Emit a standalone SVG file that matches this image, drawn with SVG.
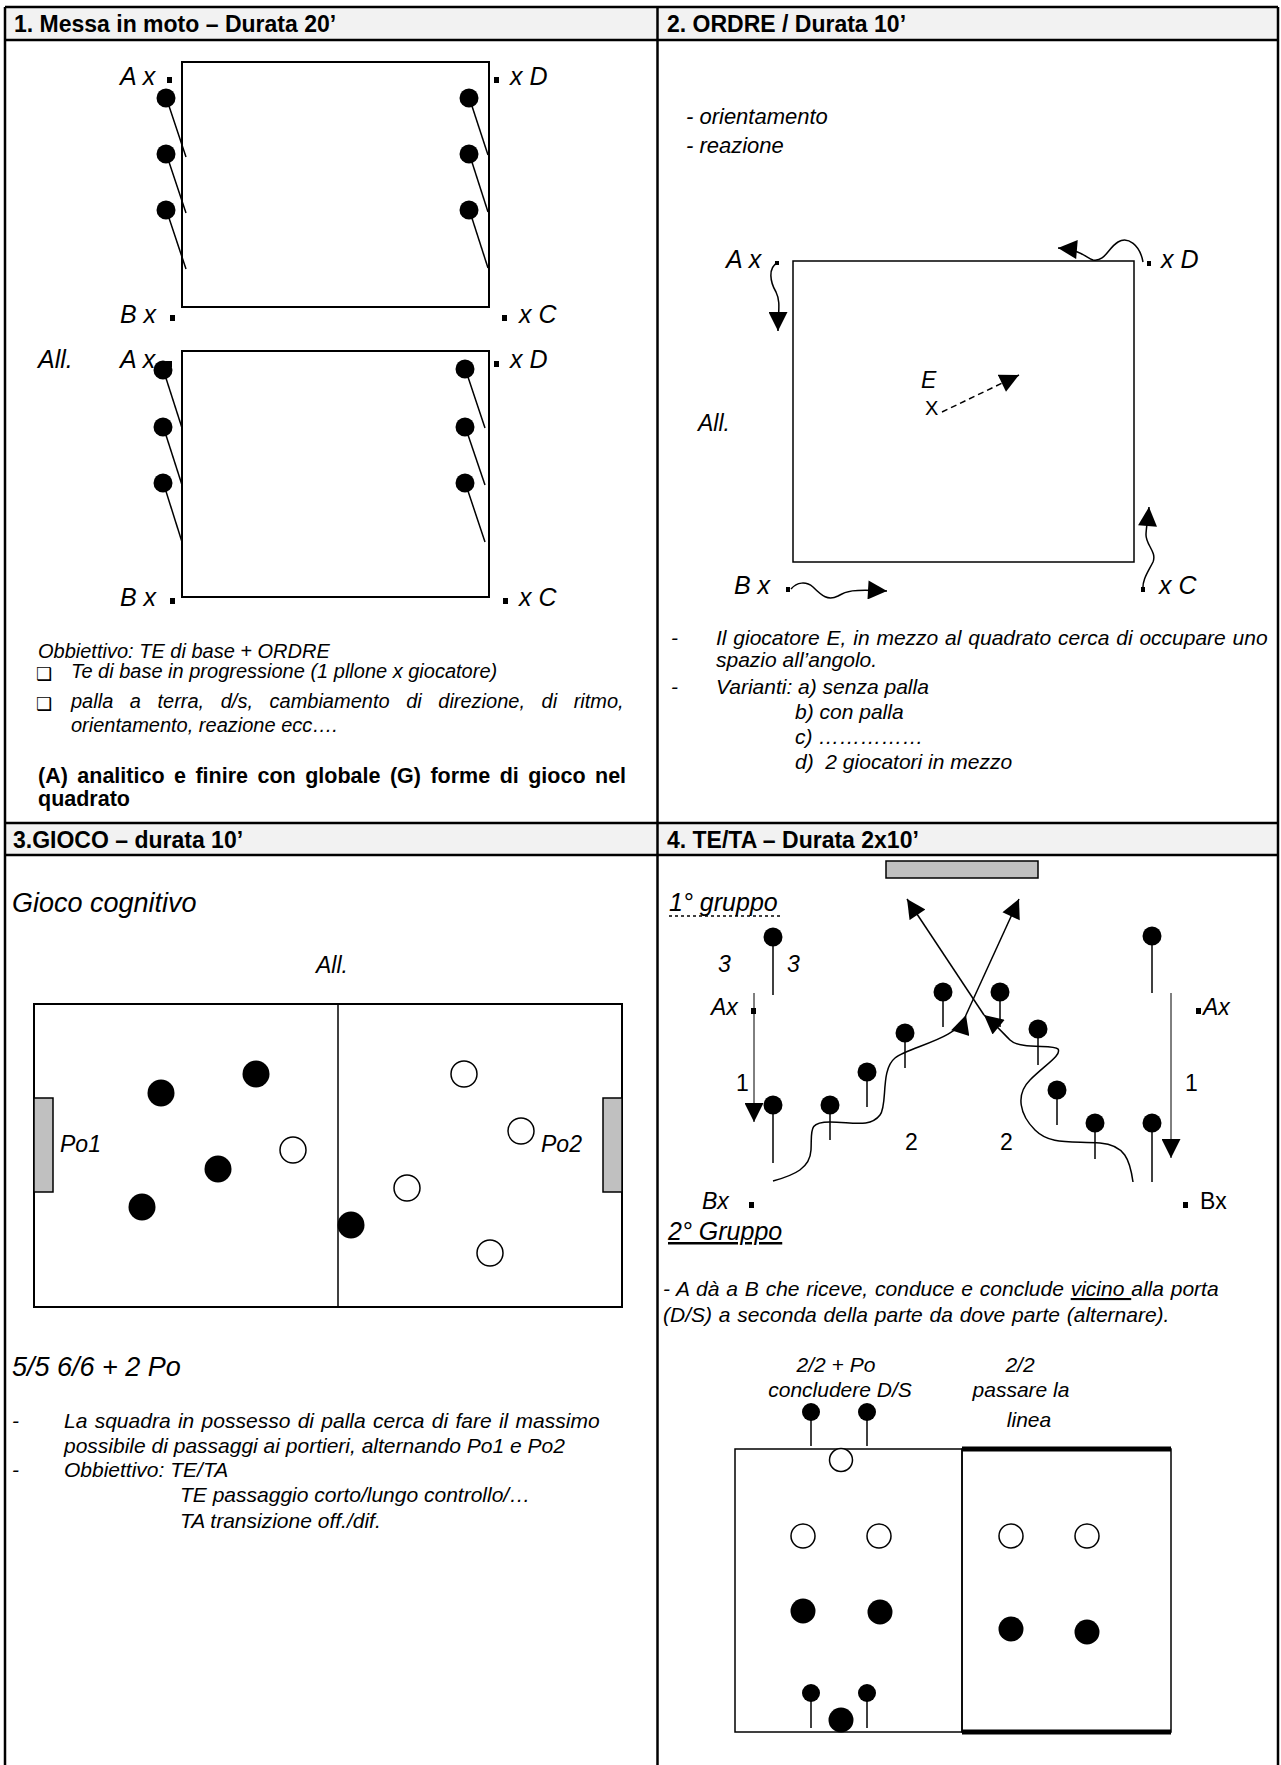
<svg xmlns="http://www.w3.org/2000/svg" width="1281" height="1765" viewBox="0 0 1281 1765">
<style>
.t{font-family:"Liberation Sans",Arial,sans-serif;fill:#000}
.i{font-style:italic}
.b{font-weight:bold}
.h{font-size:23px;font-weight:bold}
.l{font-size:23px;font-style:italic}
.k{font-size:25px;font-style:italic}
.g{font-size:27px;font-style:italic}
.s{font-size:20px;font-style:italic}
.r{font-size:21px;font-style:italic}
.q{font-size:22px;font-style:italic}
.m{font-size:21px;font-style:italic}
.ln{stroke:#000;fill:none}
.ball{fill:#000}
.open{fill:#fff;stroke:#000;stroke-width:1.5}
.dot{fill:#000}
.stick{stroke:#000;stroke-width:1.5}
.box{font-family:"DejaVu Sans",sans-serif;font-size:18px}
</style>
<defs>
<marker id="ah" viewBox="0 0 20 20" refX="20" refY="10" markerWidth="20" markerHeight="19" markerUnits="userSpaceOnUse" orient="auto">
<path d="M0,0 L20,10 L0,20 Z" fill="#000"/>
</marker>
</defs>
<rect width="1281" height="1765" fill="#fff"/>

<g id="table">
<rect x="5" y="7" width="1273" height="33" fill="#f2f2f2"/>
<rect x="5" y="823" width="1273" height="32" fill="#f2f2f2"/>
<line class="ln" stroke-width="2.5" x1="5" y1="7" x2="1278" y2="7"/>
<line class="ln" stroke-width="2.5" x1="5" y1="40" x2="1278" y2="40"/>
<line class="ln" stroke-width="2.5" x1="5" y1="823" x2="1278" y2="823"/>
<line class="ln" stroke-width="2.5" x1="5" y1="855" x2="1278" y2="855"/>
<line class="ln" stroke-width="2.5" x1="5" y1="7" x2="5" y2="1765"/>
<line class="ln" stroke-width="2.5" x1="657.5" y1="7" x2="657.5" y2="1765"/>
<line class="ln" stroke-width="2.5" x1="1278" y1="7" x2="1278" y2="1765"/>
<text class="t h" x="14" y="32">1. Messa in moto – Durata 20’</text>
<text class="t h" x="667" y="32">2. ORDRE / Durata 10’</text>
<text class="t h" x="13" y="848">3.GIOCO – durata 10’</text>
<text class="t h" x="667" y="848">4. TE/TA – Durata 2x10’</text>
</g>

<g id="section1">
<g id="square1">
<rect class="ln" stroke-width="2" x="182" y="62" width="307" height="245"/>
<text class="t k" x="120" y="85">A x</text><rect class="dot" x="167" y="77" width="5" height="6"/>
<rect class="dot" x="494" y="77" width="5" height="6"/><text class="t k" x="510" y="85">x D</text>
<text class="t k" x="120" y="323">B x</text><rect class="dot" x="170" y="315" width="5" height="6"/>
<rect class="dot" x="502" y="315" width="5" height="6"/><text class="t k" x="519" y="323">x C</text>
<g id="pins1">
<circle class="ball" cx="166" cy="98" r="9.5"/><line class="stick" x1="167" y1="100" x2="186" y2="157"/>
<circle class="ball" cx="166" cy="154" r="9.5"/><line class="stick" x1="167" y1="156" x2="186" y2="213"/>
<circle class="ball" cx="166" cy="210" r="9.5"/><line class="stick" x1="167" y1="212" x2="186" y2="269"/>
<circle class="ball" cx="469" cy="98" r="9.5"/><line class="stick" x1="470" y1="100" x2="488" y2="155"/>
<circle class="ball" cx="469" cy="154" r="9.5"/><line class="stick" x1="470" y1="156" x2="488" y2="212"/>
<circle class="ball" cx="469" cy="210" r="9.5"/><line class="stick" x1="470" y1="212" x2="488" y2="268"/>
</g>
</g>
<g id="square2">
<rect class="ln" stroke-width="2" x="182" y="351" width="307" height="246"/>
<text class="t k" x="38" y="368">All.</text>
<text class="t k" x="120" y="368">A x</text><rect class="dot" x="166" y="361" width="6" height="6"/>
<rect class="dot" x="494" y="361" width="5" height="6"/><text class="t k" x="510" y="368">x D</text>
<text class="t k" x="120" y="606">B x</text><rect class="dot" x="170" y="598" width="5" height="6"/>
<rect class="dot" x="503" y="598" width="5" height="6"/><text class="t k" x="519" y="606">x C</text>
<g id="pins2">
<circle class="ball" cx="163" cy="370" r="9.5"/><line class="stick" x1="164" y1="372" x2="182" y2="428"/>
<circle class="ball" cx="163" cy="427" r="9.5"/><line class="stick" x1="164" y1="429" x2="182" y2="485"/>
<circle class="ball" cx="163" cy="483" r="9.5"/><line class="stick" x1="164" y1="485" x2="182" y2="542"/>
<circle class="ball" cx="465" cy="369" r="9.5"/><line class="stick" x1="466" y1="371" x2="485" y2="428"/>
<circle class="ball" cx="465" cy="427" r="9.5"/><line class="stick" x1="466" y1="429" x2="485" y2="485"/>
<circle class="ball" cx="465" cy="483" r="9.5"/><line class="stick" x1="466" y1="485" x2="485" y2="542"/>
</g>
</g>
<g id="notes1">
<text class="t s" x="38" y="658">Obbiettivo: TE di base + ORDRE</text>
<text class="box" x="36" y="680">❑</text>
<text class="t s" x="71" y="678">Te di base in progressione (1 pllone x giocatore)</text>
<text class="box" x="36" y="710">❑</text>
<text class="t s" x="71" y="708" word-spacing="11">palla a terra, d/s, cambiamento di direzione, di ritmo,</text>
<text class="t s" x="71" y="732">orientamento, reazione ecc….</text>
<text class="t b" style="font-size:21.5px" x="38" y="783" word-spacing="3.5">(A) analitico e finire con globale (G) forme di gioco nel</text>
<text class="t b" style="font-size:21.5px" x="38" y="806">quadrato</text>
</g>
</g>

<g id="section2">
<text class="t q" x="686" y="124">- orientamento</text>
<text class="t q" x="686" y="153">- reazione</text>
<g id="square3">
<rect class="ln" stroke-width="1.5" x="793" y="261" width="341" height="301"/>
<text class="t k" x="726" y="268">A x</text><rect class="dot" x="775" y="261" width="4" height="4"/>
<rect class="dot" x="1147" y="261" width="4" height="5"/><text class="t k" x="1161" y="268">x D</text>
<text class="t k" x="734" y="594">B x</text><rect class="dot" x="786" y="587" width="4" height="5"/>
<rect class="dot" x="1141" y="587" width="4" height="5"/><text class="t k" x="1159" y="594">x C</text>
<text class="t l" x="698" y="431">All.</text>
<text class="t l" x="921" y="388">E</text>
<text class="t" style="font-size:20px" x="925" y="415">X</text>
</g>
<g id="moves2">
<path class="ln" stroke-width="1.5" d="M777 263 C768 268,770 282,776 292 C781 302,778 312,778 331" marker-end="url(#ah)"/>
<path class="ln" stroke-width="1.5" d="M1143 262 C1140 245,1128 236,1118 242 C1108 248,1105 262,1093 260 C1086 258,1082 250,1058 248" marker-end="url(#ah)"/>
<path class="ln" stroke-width="1.5" d="M791 589 C797 582,806 581,813 587 C822 596,828 601,838 596 C846 591,852 589,887 591" marker-end="url(#ah)"/>
<path class="ln" stroke-width="1.5" d="M1143 590 C1142 580,1148 572,1153 562 C1157 552,1146 545,1146 535 C1146 528,1148 520,1149 507" marker-end="url(#ah)"/>
<line class="ln" stroke-width="1.5" stroke-dasharray="6,4" x1="942" y1="412" x2="1019" y2="375" marker-end="url(#ah)"/>
</g>
<g id="notes2">
<text class="t r" x="671" y="645">-</text>
<text class="t r" x="716" y="645" word-spacing="1">Il giocatore E, in mezzo al quadrato cerca di occupare uno</text>
<text class="t r" x="716" y="667">spazio all’angolo.</text>
<text class="t r" x="671" y="694">-</text>
<text class="t r" x="716" y="694">Varianti: a) senza palla</text>
<text class="t r" x="795" y="719">b) con palla</text>
<text class="t r" x="795" y="744">c) ……………</text>
<text class="t r" x="795" y="769" xml:space="preserve">d)  2 giocatori in mezzo</text>
</g>
</g>

<g id="section3">
<text class="t g" x="12" y="912">Gioco cognitivo</text>
<text class="t l" x="316" y="973">All.</text>
<g id="field3">
<rect class="ln" stroke-width="2" x="34" y="1004" width="588" height="303"/>
<line class="ln" stroke-width="1.5" x1="338" y1="1004" x2="338" y2="1307"/>
<rect x="34" y="1098" width="19" height="94" fill="#c0c0c0" stroke="#000" stroke-width="1.5"/>
<rect x="603" y="1098" width="19" height="94" fill="#c0c0c0" stroke="#000" stroke-width="1.5"/>
<text class="t l" x="60" y="1152">Po1</text>
<text class="t l" x="541" y="1152">Po2</text>
<circle class="ball" cx="161" cy="1093" r="13.5"/>
<circle class="ball" cx="256" cy="1074" r="13.5"/>
<circle class="ball" cx="218" cy="1169" r="13.5"/>
<circle class="ball" cx="142" cy="1207" r="13.5"/>
<circle class="ball" cx="351" cy="1225" r="13.5"/>
<circle class="open" cx="464" cy="1074" r="13"/>
<circle class="open" cx="521" cy="1131" r="13"/>
<circle class="open" cx="293" cy="1150" r="13"/>
<circle class="open" cx="407" cy="1188" r="13"/>
<circle class="open" cx="490" cy="1253" r="13"/>
</g>
<text class="t g" x="12" y="1376">5/5 6/6 + 2 Po</text>
<g id="notes3">
<text class="t r" x="12" y="1428">-</text>
<text class="t r" x="64" y="1428" word-spacing="1.5">La squadra in possesso di palla cerca di fare il massimo</text>
<text class="t r" x="64" y="1453">possibile di passaggi ai portieri, alternando Po1 e Po2</text>
<text class="t r" x="12" y="1477">-</text>
<text class="t r" x="64" y="1477">Obbiettivo: TE/TA</text>
<text class="t r" x="180" y="1502">TE passaggio corto/lungo controllo/…</text>
<text class="t r" x="180" y="1528">TA transizione off./dif.</text>
</g>
</g>

<g id="section4">
<rect x="886" y="861" width="152" height="17" fill="#c0c0c0" stroke="#000" stroke-width="1.5"/>
<text class="t k" x="669" y="911">1° gruppo</text>
<line class="ln" stroke-width="1.5" stroke-dasharray="3,3" x1="669" y1="916" x2="781" y2="916"/>
<text class="t l" x="718" y="972">3</text>
<text class="t l" x="787" y="972">3</text>
<text class="t l" x="711" y="1015">Ax</text><rect class="dot" x="751" y="1008" width="5" height="6"/>
<rect class="dot" x="1196" y="1008" width="5" height="6"/><text class="t l" x="1203" y="1015">Ax</text>
<text class="t" style="font-size:23px" x="736" y="1091">1</text>
<text class="t" style="font-size:23px" x="1185" y="1091">1</text>
<text class="t" style="font-size:23px" x="905" y="1150">2</text>
<text class="t" style="font-size:23px" x="1000" y="1150">2</text>
<text class="t l" x="702" y="1209">Bx</text><rect class="dot" x="749" y="1202" width="5" height="6"/>
<rect class="dot" x="1183" y="1202" width="5" height="6"/><text class="t" style="font-size:23px" x="1200" y="1209">Bx</text>
<text class="t k" x="668" y="1240" text-decoration="underline">2° Gruppo</text>
<g id="pins4">
<circle class="ball" cx="773" cy="937" r="9.5"/><line class="stick" x1="773" y1="937" x2="773" y2="995"/>
<circle class="ball" cx="1152" cy="936" r="9.5"/><line class="stick" x1="1152" y1="936" x2="1152" y2="993"/>
<circle class="ball" cx="773" cy="1105" r="9.5"/><line class="stick" x1="773" y1="1105" x2="773" y2="1163"/>
<circle class="ball" cx="830" cy="1105" r="9.5"/><line class="stick" x1="830" y1="1105" x2="830" y2="1140"/>
<circle class="ball" cx="867" cy="1072" r="9.5"/><line class="stick" x1="867" y1="1072" x2="867" y2="1107"/>
<circle class="ball" cx="905" cy="1033" r="9.5"/><line class="stick" x1="905" y1="1033" x2="905" y2="1068"/>
<circle class="ball" cx="943" cy="992" r="9.5"/><line class="stick" x1="943" y1="992" x2="943" y2="1027"/>
<circle class="ball" cx="1000" cy="992" r="9.5"/><line class="stick" x1="1000" y1="992" x2="1000" y2="1027"/>
<circle class="ball" cx="1038" cy="1029" r="9.5"/><line class="stick" x1="1038" y1="1029" x2="1038" y2="1065"/>
<circle class="ball" cx="1057" cy="1090" r="9.5"/><line class="stick" x1="1057" y1="1090" x2="1057" y2="1125"/>
<circle class="ball" cx="1095" cy="1123" r="9.5"/><line class="stick" x1="1095" y1="1123" x2="1095" y2="1159"/>
<circle class="ball" cx="1152" cy="1123" r="9.5"/><line class="stick" x1="1152" y1="1123" x2="1152" y2="1182"/>
</g>
<g id="moves4">
<line class="ln" stroke-width="1" x1="754" y1="993" x2="754" y2="1122" marker-end="url(#ah)"/>
<line class="ln" stroke-width="1" x1="1171" y1="993" x2="1171" y2="1158" marker-end="url(#ah)"/>
<path class="ln" stroke-width="1.5" d="M773 1181 C795 1175,810 1168,811 1150 C812 1130,808 1122,830 1122 C852 1122,870 1128,880 1115 C888 1105,880 1070,895 1058 C910 1046,958 1040,966 1015" marker-end="url(#ah)"/>
<path class="ln" stroke-width="1.5" d="M1133 1182 C1130 1160,1125 1145,1100 1143 C1070 1141,1050 1145,1035 1130 C1020 1115,1015 1095,1030 1080 C1045 1065,1062 1055,1058 1049 C1054 1044,1020 1050,1010 1040 C1002 1032,996 1025,984 1015" marker-end="url(#ah)"/>
<line class="ln" stroke-width="1.5" x1="966" y1="1015" x2="1019" y2="899" marker-end="url(#ah)"/>
<line class="ln" stroke-width="1.5" x1="984" y1="1015" x2="907" y2="899" marker-end="url(#ah)"/>
</g>
<g id="notes4">
<text class="t r" x="663" y="1296" word-spacing="1">- A dà a B che riceve, conduce e conclude <tspan text-decoration="underline">vicino </tspan>alla porta</text>
<text class="t r" x="663" y="1322" word-spacing="1">(D/S) a seconda della parte da dove parte (alternare).</text>
<text class="t m" x="836" y="1372" text-anchor="middle">2/2 + Po</text>
<text class="t m" x="840" y="1397" text-anchor="middle">concludere D/S</text>
<text class="t m" x="1020" y="1372" text-anchor="middle">2/2</text>
<text class="t m" x="1021" y="1397" text-anchor="middle">passare la</text>
<text class="t m" x="1029" y="1427" text-anchor="middle">linea</text>
</g>
<g id="field4">
<rect class="ln" stroke-width="1.5" x="735" y="1449" width="227" height="283"/>
<rect class="ln" stroke-width="1.5" x="962" y="1449" width="209" height="283"/>
<line class="ln" stroke-width="5" x1="962" y1="1449" x2="1171" y2="1449"/>
<line class="ln" stroke-width="5" x1="962" y1="1732" x2="1171" y2="1732"/>
<circle class="ball" cx="811" cy="1412" r="9"/><line class="stick" x1="811" y1="1412" x2="811" y2="1446"/>
<circle class="ball" cx="867" cy="1412" r="9"/><line class="stick" x1="867" y1="1412" x2="867" y2="1446"/>
<circle class="open" cx="841" cy="1460" r="11.5"/>
<circle class="open" cx="803" cy="1536" r="12"/>
<circle class="open" cx="879" cy="1536" r="12"/>
<circle class="open" cx="1011" cy="1536" r="12"/>
<circle class="open" cx="1087" cy="1536" r="12"/>
<circle class="ball" cx="803" cy="1611" r="12.5"/>
<circle class="ball" cx="880" cy="1612" r="12.5"/>
<circle class="ball" cx="1011" cy="1629" r="12.5"/>
<circle class="ball" cx="1087" cy="1632" r="12.5"/>
<circle class="ball" cx="811" cy="1693" r="9"/><line class="stick" x1="811" y1="1693" x2="811" y2="1728"/>
<circle class="ball" cx="867" cy="1693" r="9"/><line class="stick" x1="867" y1="1693" x2="867" y2="1728"/>
<circle class="ball" cx="841" cy="1720" r="12.5"/>
</g>
</g>
</svg>
